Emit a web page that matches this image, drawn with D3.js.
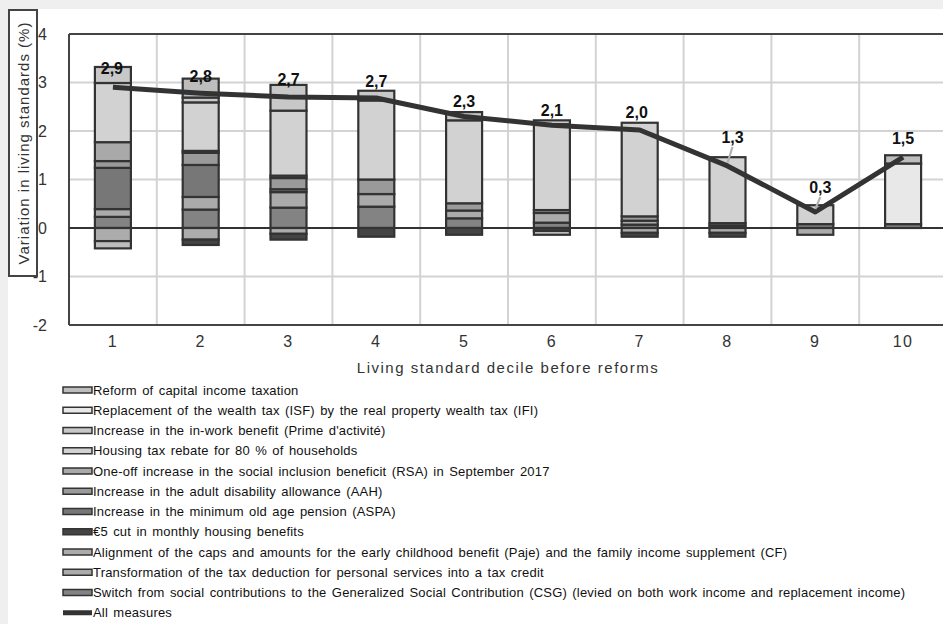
<!DOCTYPE html>
<html>
<head>
<meta charset="utf-8">
<script src="https://cdn.jsdelivr.net/npm/d3@7"></script>
<style>
  html, body { margin: 0; padding: 0; background: #efefef; }
  svg { display: block; font-family: "Liberation Sans", Arial, sans-serif; }
</style>
</head>
<body>
<svg id="chart" width="943" height="624"></svg>
<script>
// ---------------- DATA ----------------
const deciles = ["1", "2", "3", "4", "5", "6", "7", "8", "9", "10"];
const yTicks = [-2, -1, 0, 1, 2, 3, 4];

const capitalIncome     = [-0.15, 0.39, 0, 0, 0, -0.08, 0, 0, 0, 0.17];
const wealthTax         = [0, 0, 0, 0, 0, 0, 0, 0, 0, 1.25];
const inWorkBenefit     = [0.33, 0.10, 0.53, 0.20, 0.17, 0.08, 0, 0, 0, 0];
const housingTaxRebate  = [1.22, 1.00, 1.34, 1.63, 1.71, 1.77, 1.93, 1.36, 0.39, 0];
const rsaIncrease       = [0.39, 0.04, 0.05, 0, 0, 0, 0, 0, 0, 0];
const aahIncrease       = [0.14, 0.25, 0.23, 0.30, 0.15, 0.06, 0.09, 0, 0, 0];
const aspaIncrease      = [0.85, 0.66, 0.06, 0, 0, 0, 0, 0, 0, 0];
const housingBenefitCut = [0, -0.11, -0.12, -0.18, -0.14, -0.06, -0.08, -0.08, 0, 0];
const pajeAlignment     = [-0.27, -0.24, -0.12, 0, 0, 0, -0.10, -0.10, -0.14, 0];
const taxCredit         = [0.16, 0.26, 0.32, 0.26, 0.16, 0.20, 0.08, 0.05, 0, 0];
const csgSwitch         = [0.23, 0.38, 0.42, 0.44, 0.20, 0.11, 0.07, 0.05, 0.08, 0.08];
const allMeasures       = [2.9, 2.78, 2.7, 2.68, 2.3, 2.12, 2.02, 1.28, 0.33, 1.46];

const seriesNames = [
  "Reform of capital income taxation",
  "Replacement of the wealth tax (ISF) by the real property wealth tax (IFI)",
  "Increase in the in-work benefit (Prime d'activité)",
  "Housing tax rebate for 80 % of households",
  "One-off increase in the social inclusion beneficit (RSA) in September 2017",
  "Increase in the adult disability allowance (AAH)",
  "Increase in the minimum old age pension (ASPA)",
  "€5 cut in monthly housing benefits",
  "Alignment of the caps and amounts for the early childhood benefit (Paje) and the family income supplement (CF)",
  "Transformation of the tax deduction for personal services into a tax credit",
  "Switch from social contributions to the Generalized Social Contribution (CSG) (levied on both work income and replacement income)"
];
const lineName = "All measures";
const seriesValues = [capitalIncome, wealthTax, inWorkBenefit, housingTaxRebate, rsaIncrease,
  aahIncrease, aspaIncrease, housingBenefitCut, pajeAlignment, taxCredit, csgSwitch];

// ---------------- STYLE ----------------
const colors = ["#bdbdbd", "#e8e8e8", "#c8c8c8", "#d2d2d2", "#a9a9a9", "#9a9a9a",
  "#777777", "#444444", "#acacac", "#ababab", "#838383"];
const labelDx = [-1, 0, 0, 0, 0, 0, -3, 5, 5, 0];
const labelDy = [-19, -17, -18, -17, -15, -15, -18, -28, -24, -19];

// ---------------- DRAW ----------------
const svg = d3.select("#chart");
const W = 943, H = 624;
svg.append("rect").attr("x", 8).attr("y", 9).attr("width", W - 8).attr("height", H - 9).attr("fill", "#ffffff");

const x = d3.scaleBand().domain(deciles).range([69, 947]).paddingInner(0.59).paddingOuter(0.295);
const y = d3.scaleLinear().domain([-2, 4]).range([325, 34]);

// table for stacking
const table = deciles.map((d, i) => {
  const row = { decile: d };
  seriesNames.forEach((n, k) => row[n] = seriesValues[k][i]);
  return row;
});
const stackKeys = seriesNames.slice().reverse();
const stacked = d3.stack().keys(stackKeys).offset(d3.stackOffsetDiverging)(table);

// grid
const grid = svg.append("g");
grid.selectAll("line.h").data(yTicks.filter(t => t !== 0 && t !== 4 && t !== -2)).join("line")
  .attr("x1", 69).attr("x2", W).attr("y1", d => y(d)).attr("y2", d => y(d))
  .attr("stroke", "#d3d3d3").attr("stroke-width", 2);
grid.selectAll("line.v").data(deciles.slice(1)).join("line")
  .attr("x1", d => x(d) - x.step() * x.paddingInner() / 2).attr("x2", d => x(d) - x.step() * x.paddingInner() / 2)
  .attr("y1", y(4)).attr("y2", y(-2))
  .attr("stroke", "#d3d3d3").attr("stroke-width", 2);

// frame
svg.append("line").attr("x1", 69).attr("x2", W).attr("y1", y(4)).attr("y2", y(4)).attr("stroke", "#444").attr("stroke-width", 2);
svg.append("line").attr("x1", 69).attr("x2", W).attr("y1", y(-2)).attr("y2", y(-2)).attr("stroke", "#444").attr("stroke-width", 2);
svg.append("line").attr("x1", 69).attr("x2", 69).attr("y1", y(4)).attr("y2", y(-2)).attr("stroke", "#444").attr("stroke-width", 2);

// bars
const colorOf = d3.scaleOrdinal().domain(seriesNames).range(colors);
svg.append("g").selectAll("g").data(stacked).join("g")
  .attr("fill", s => colorOf(s.key))
  .selectAll("rect").data(s => s.filter(p => Math.abs(p[1] - p[0]) > 1e-9)).join("rect")
  .attr("x", p => x(p.data.decile))
  .attr("width", x.bandwidth())
  .attr("y", p => y(Math.max(p[0], p[1])))
  .attr("height", p => Math.abs(y(p[0]) - y(p[1])))
  .attr("stroke", "#333").attr("stroke-width", 2.2);

// zero line
svg.append("line").attr("x1", 69).attr("x2", W).attr("y1", y(0)).attr("y2", y(0)).attr("stroke", "#333").attr("stroke-width", 2);

// all-measures line
const cx = d => x(d) + x.bandwidth() / 2;
svg.append("path")
  .datum(allMeasures)
  .attr("d", d3.line().x((v, i) => cx(deciles[i])).y(v => y(v)))
  .attr("fill", "none").attr("stroke", "#333").attr("stroke-width", 5).attr("stroke-linejoin", "round");

// leader lines for moved labels
[7, 8].forEach(i => {
  svg.append("line")
    .attr("x1", cx(deciles[i]) + labelDx[i]).attr("y1", y(allMeasures[i]) + labelDy[i] + 9)
    .attr("x2", cx(deciles[i])).attr("y2", y(allMeasures[i]) - 3)
    .attr("stroke", "#b0b0b0").attr("stroke-width", 2);
});

// data labels
const fmt = v => d3.format(".1f")(v).replace(".", ",");
svg.append("g").selectAll("text").data(allMeasures).join("text")
  .attr("x", (v, i) => cx(deciles[i]) + labelDx[i])
  .attr("y", (v, i) => y(v) + labelDy[i])
  .attr("text-anchor", "middle").attr("dominant-baseline", "central")
  .attr("font-size", 16).attr("font-weight", "bold").attr("fill", "#111")
  .text(fmt);

// axes
const yAxis = svg.append("g").attr("transform", "translate(49,0)")
  .call(d3.axisLeft(y).tickValues(yTicks).tickSize(0).tickPadding(2).tickFormat(d => String(d)));
yAxis.select(".domain").remove();
yAxis.selectAll("text").attr("font-size", 16).attr("fill", "#333").attr("font-family", "Liberation Sans, Arial, sans-serif");

const xAxis = svg.append("g").attr("transform", `translate(0,${y(-2)})`)
  .call(d3.axisBottom(x).tickSize(0).tickPadding(11));
xAxis.select(".domain").remove();
xAxis.selectAll("text").attr("font-size", 16).attr("fill", "#333").attr("letter-spacing", 1.5)
  .attr("font-family", "Liberation Sans, Arial, sans-serif");

// axis titles
svg.append("text").attr("x", 508).attr("y", 367).attr("text-anchor", "middle").attr("dominant-baseline", "central")
  .attr("font-size", 15).attr("letter-spacing", 1.5).attr("fill", "#333")
  .text("Living standard decile before reforms");

svg.append("rect").attr("x", 9).attr("y", 10).attr("width", 28).attr("height", 266)
  .attr("fill", "none").attr("stroke", "#444").attr("stroke-width", 2);
svg.append("text").attr("transform", "translate(23,143) rotate(-90)")
  .attr("text-anchor", "middle").attr("dominant-baseline", "central")
  .attr("font-size", 15).attr("letter-spacing", 1).attr("fill", "#333")
  .text("Variation in living standards (%)");

// legend
const legendItems = seriesNames.map((n, k) => ({ name: n, color: colors[k], type: "bar" }))
  .concat([{ name: lineName, color: "#333", type: "line" }]);
const lg = svg.append("g").selectAll("g").data(legendItems).join("g")
  .attr("transform", (d, i) => `translate(63,${390 + i * 20.25})`);
lg.filter(d => d.type === "bar").append("rect")
  .attr("x", 0).attr("y", -3).attr("width", 29).attr("height", 6)
  .attr("fill", d => d.color).attr("stroke", "#333").attr("stroke-width", 1.5);
lg.filter(d => d.type === "line").append("line")
  .attr("x1", 0).attr("x2", 29).attr("y1", 0).attr("y2", 0)
  .attr("stroke", "#333").attr("stroke-width", 5);
lg.append("text").attr("x", 30).attr("y", 0).attr("dominant-baseline", "central")
  .attr("font-size", 13).attr("letter-spacing", 0.2).attr("word-spacing", 1.5)
  .attr("fill", "#111").text(d => d.name);
</script>
</body>
</html>
